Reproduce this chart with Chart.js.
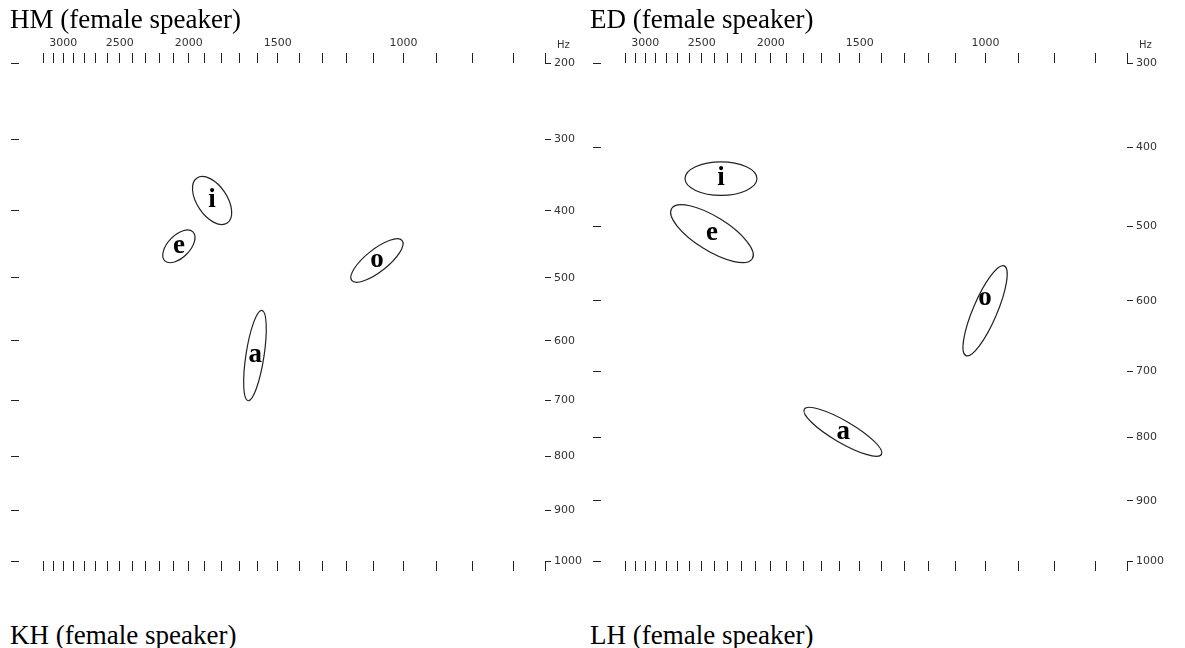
<!DOCTYPE html>
<html>
<head>
<meta charset="utf-8">
<script src="https://cdn.jsdelivr.net/npm/chart.js@4.4.1/dist/chart.umd.min.js"></script>
<style>
  html, body { margin: 0; padding: 0; background: #fff; }
  body { width: 1185px; height: 648px; position: relative; overflow: hidden; }
  .panel { position: absolute; top: 0; width: 592px; height: 600px; }
  .title { position: absolute; font-family: "Liberation Serif", "Times New Roman", serif; font-size: 27px;
           line-height: 1; color: #000; white-space: nowrap; }
</style>
</head>
<body>
<div class="panel" style="left:0"><canvas id="hm" width="592" height="600"></canvas></div>
<div class="panel" style="left:582px"><canvas id="ed" width="592" height="600"></canvas></div>
<div class="title" style="left:10px;top:6px">HM (female speaker)</div>
<div class="title" style="left:590px;top:6px">ED (female speaker)</div>
<div class="title" style="left:10px;top:622px">KH (female speaker)</div>
<div class="title" style="left:590px;top:622px">LH (female speaker)</div>
<script>
// vowel charts: F2 on top (log, reversed), F1 on the right (warped Hz), one ellipse per vowel

// F2 axis ticks, every 100 Hz
const f2Ticks = [3200, 3100, 3000, 2900, 2800, 2700, 2600, 2500, 2400, 2300, 2200, 2100, 2000, 1900,
  1800, 1700, 1600, 1500, 1400, 1300, 1200, 1100, 1000, 900, 800, 700];
const f2Labels = [3000, 2500, 2000, 1500, 1000];

const hmF1Ticks = [200, 300, 400, 500, 600, 700, 800, 900, 1000];
const edF1Ticks = [300, 400, 500, 600, 700, 800, 900, 1000];

// HM: vowel means (Hz), extent of each ellipse, and F2/F1 correlation
const hmVowels = ['i', 'e', 'a', 'o'];
const hmF2 = [1855, 2064, 1614, 1089];
const hmF1 = [385, 452, 624, 473];
const hmF2Span = [[1741, 1976], [1960, 2175], [1557, 1675], [1001, 1185]];
const hmF1Span = [[351, 420], [428, 477], [551, 701], [441, 507]];
const hmCorr = [-0.50, 0.54, 0.59, 0.78];

// ED
const edVowels = ['i', 'e', 'a', 'o'];
const edF2 = [2348, 2418, 1583, 1001];
const edF1 = [438, 509, 791, 596];
const edF2Span = [[2091, 2638], [2116, 2763], [1397, 1797], [932, 1075]];
const edF1Span = [[418, 460], [472, 548], [754, 829], [552, 678]];
const edCorr = [0.0, -0.74, -0.86, 0.81];

// F1 axis warp
function warp(f) { return Math.log(f + 1150); }
function unwarp(w) { return Math.exp(w) - 1150; }

class WarpScale extends Chart.LinearScale {
  getPixelForValue(value) {
    const a = warp(this.min), b = warp(this.max);
    return this.getPixelForDecimal((warp(value) - a) / (b - a));
  }
  getValueForPixel(pixel) {
    const a = warp(this.min), b = warp(this.max);
    return unwarp(a + this.getDecimalForPixel(pixel) * (b - a));
  }
}
WarpScale.id = 'warp';
WarpScale.defaults = {};
Chart.register(WarpScale);

const tickFont = { family: 'DejaVu Sans', size: 11 };
const inkColor = '#222';

const vowelPlugin = {
  id: 'vowelEllipses',
  afterDatasetsDraw(chart) {
    const ds = chart.data.datasets[0];
    const meta = chart.getDatasetMeta(0);
    const xs = chart.scales.x, ys = chart.scales.y;
    const ctx = chart.ctx;
    ctx.save();
    meta.data.forEach((pt, i) => {
      const xa = xs.getPixelForValue(ds.f2Span[i][0]), xb = xs.getPixelForValue(ds.f2Span[i][1]);
      const ya = ys.getPixelForValue(ds.f1Span[i][0]), yb = ys.getPixelForValue(ds.f1Span[i][1]);
      const hx = Math.abs(xb - xa) / 2, hy = Math.abs(yb - ya) / 2;
      const r = ds.corr[i] * Math.sign(xb - xa) * Math.sign(yb - ya);
      const a = hx * hx, c = hy * hy, b = r * hx * hy;
      const d = Math.sqrt(((a - c) / 2) ** 2 + b * b);
      const theta = 0.5 * Math.atan2(2 * b, a - c);
      ctx.beginPath();
      ctx.ellipse((xa + xb) / 2, (ya + yb) / 2, Math.sqrt((a + c) / 2 + d),
        Math.sqrt(Math.max((a + c) / 2 - d, 1)), theta, 0, Math.PI * 2);
      ctx.strokeStyle = '#222';
      ctx.lineWidth = 1.2;
      ctx.stroke();
      // vowel label at the mean
      ctx.fillStyle = '#000';
      ctx.font = 'bold 27px "Liberation Serif", serif';
      ctx.textAlign = 'center';
      ctx.textBaseline = 'alphabetic';
      ctx.fillText(ds.vowels[i], pt.x, pt.y + 7);
    });
    ctx.restore();
  }
};

const hzPlugin = {
  id: 'hzUnit',
  afterDraw(chart) {
    const ctx = chart.ctx, ys = chart.scales.y, xs = chart.scales.x;
    ctx.save();
    ctx.font = '10px "DejaVu Sans"';
    ctx.fillStyle = '#333';
    ctx.textAlign = 'left';
    ctx.textBaseline = 'bottom';
    ctx.fillText('Hz', ys.left + 12, xs.bottom - 13);
    ctx.restore();
  }
};

function f2Axis(position, withLabels) {
  return {
    type: 'logarithmic', position: position, reverse: true, min: 633, max: 3460,
    // regular ticks plus an end mark at the low-frequency edge
    afterBuildTicks: (s) => { s.ticks = f2Ticks.concat([s.min]).map((v) => ({ value: v })); },
    afterFit: (s) => { s.height = position === 'top' ? 63 : 39; },
    grid: { drawOnChartArea: false, tickLength: 10, color: inkColor, lineWidth: 1 },
    border: { display: false },
    ticks: {
      autoSkip: false, maxRotation: 0, minRotation: 0, padding: 3, font: tickFont, color: '#333',
      callback: (v) => (withLabels && f2Labels.includes(v) ? String(v) : '')
    }
  };
}

function f1Axis(position, min, ticks, withLabels) {
  return {
    type: 'warp', position: position, reverse: true, min: min, max: 1000,
    afterBuildTicks: (s) => { s.ticks = ticks.map((v) => ({ value: v })); },
    afterFit: (s) => { s.width = position === 'right' ? 47 : 19; },
    grid: { drawOnChartArea: false, tickLength: position === 'right' ? 6 : 8, color: inkColor, lineWidth: 1 },
    border: { display: false },
    ticks: {
      autoSkip: false, padding: 3, font: tickFont, color: '#333',
      callback: (v) => (withLabels ? String(v) : '')
    }
  };
}

function makeChart(id, f1Min, f1Ticks, vowels, f2, f1, f2Span, f1Span, corr) {
  return new Chart(document.getElementById(id), {
    type: 'scatter',
    data: {
      datasets: [{
        data: f2.map((v, i) => ({ x: v, y: f1[i] })),
        xAxisID: 'x', yAxisID: 'y',
        pointRadius: 0, showLine: false,
        vowels: vowels, f2Span: f2Span, f1Span: f1Span, corr: corr
      }]
    },
    options: {
      responsive: false,
      animation: false,
      events: [],
      layout: { padding: 0 },
      plugins: { legend: { display: false }, tooltip: { enabled: false } },
      scales: {
        x: f2Axis('top', true),
        x2: f2Axis('bottom', false),
        y: f1Axis('right', f1Min, f1Ticks, true),
        yL: f1Axis('left', f1Min, f1Ticks, false)
      }
    },
    plugins: [vowelPlugin, hzPlugin]
  });
}

makeChart('hm', 200, hmF1Ticks, hmVowels, hmF2, hmF1, hmF2Span, hmF1Span, hmCorr);
makeChart('ed', 300, edF1Ticks, edVowels, edF2, edF1, edF2Span, edF1Span, edCorr);
</script>
</body>
</html>
